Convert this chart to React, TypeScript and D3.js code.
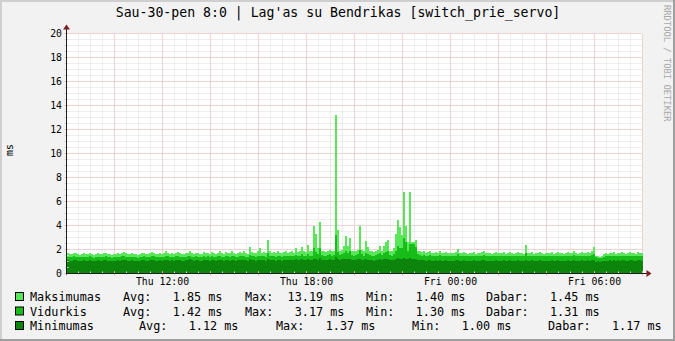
import React from "react";
import * as d3 from "d3";

const title = "Sau-30-pen 8:0 | Lag'as su Bendrikas [switch_prie_servo]";
const yLabel = "ms";
const credit = "RRDTOOL / TOBI OETIKER";
const startMs = Date.UTC(2009, 0, 29, 8, 0);
const stepMin = 5;
const yTicks = [0, 2, 4, 6, 8, 10, 12, 14, 16, 18, 20];

const maxValues = [
  1.7,1.65,1.6,1.75,1.7,1.6,1.55,1.65,1.7,1.6,1.65,1.75,1.6,1.55,1.6,1.7,1.65,1.6,1.7,1.75,1.65,1.6,1.55,1.6,
  1.65,1.7,1.6,1.75,1.8,1.7,1.65,1.6,1.7,1.65,1.6,1.55,1.65,1.7,1.75,1.65,1.6,1.7,1.8,1.75,1.65,1.6,1.7,1.65,
  1.7,1.85,1.75,1.65,1.7,1.6,1.75,1.8,1.7,1.65,1.6,1.7,1.75,1.85,1.7,1.65,1.75,1.7,1.6,1.65,1.8,1.7,1.75,1.65,
  1.8,1.7,1.65,1.75,1.9,1.7,1.65,1.8,1.75,1.7,1.9,1.75,1.65,1.7,1.8,1.75,1.85,1.7,1.65,2.25,1.8,1.75,1.7,1.85,
  2.1,1.75,1.8,1.7,2.8,1.85,1.75,1.8,1.7,1.9,1.75,1.7,1.8,1.85,1.75,1.8,1.9,1.75,2.1,1.8,1.85,2.2,1.9,1.8,
  2.4,1.9,1.85,4.0,3.3,2.1,4.3,1.9,1.85,1.8,1.9,2.0,1.85,1.9,13.19,3.6,1.9,2.0,2.3,3.1,2.3,2.95,1.9,1.85,
  1.9,2.0,4.0,2.0,1.85,2.7,2.2,1.9,1.85,1.8,1.9,2.0,2.3,1.9,2.3,2.6,2.8,1.9,1.85,2.1,3.3,4.5,3.9,3.2,
  6.83,4.0,2.6,6.83,2.6,2.6,2.8,1.9,1.85,1.8,1.85,1.75,1.8,1.9,1.75,1.7,1.8,1.75,1.85,1.7,1.75,1.8,1.7,1.75,
  1.7,1.75,1.8,2.05,1.7,1.75,1.8,1.7,1.65,1.75,1.7,1.8,1.65,1.7,1.75,1.8,1.9,1.75,1.7,1.7,1.65,1.75,1.8,1.7,
  1.75,1.7,1.8,1.65,1.75,1.8,1.7,1.65,1.75,1.8,1.7,1.75,1.65,2.4,1.75,1.7,1.8,1.65,1.7,1.75,1.8,1.7,1.65,1.75,
  1.7,1.75,1.8,1.65,1.7,1.8,1.75,1.7,1.65,1.75,1.8,1.7,1.75,1.85,1.7,1.65,1.75,1.8,1.7,1.75,1.8,1.7,1.85,2.25,
  1.5,1.45,1.4,1.45,1.6,1.7,1.65,1.75,1.7,1.8,1.65,1.75,1.7,1.8,1.75,1.65,1.7,1.8,1.75,1.7,1.65,1.8,1.75,1.7,
];

const avgValues = [
  1.4,1.38,1.35,1.42,1.4,1.36,1.34,1.38,1.4,1.35,1.37,1.42,1.36,1.33,1.35,1.4,1.38,1.35,1.4,1.42,1.37,1.35,1.33,1.36,
  1.38,1.4,1.35,1.42,1.45,1.4,1.37,1.35,1.4,1.38,1.35,1.33,1.37,1.4,1.42,1.38,1.35,1.4,1.45,1.42,1.37,1.35,1.4,1.38,
  1.4,1.45,1.42,1.38,1.4,1.35,1.42,1.45,1.4,1.38,1.35,1.4,1.42,1.48,1.4,1.37,1.42,1.4,1.35,1.38,1.45,1.4,1.42,1.38,
  1.45,1.4,1.38,1.42,1.48,1.4,1.37,1.45,1.42,1.4,1.48,1.42,1.38,1.4,1.45,1.42,1.46,1.4,1.38,1.55,1.45,1.42,1.4,1.46,
  1.5,1.42,1.45,1.4,1.7,1.46,1.42,1.45,1.4,1.48,1.42,1.4,1.45,1.46,1.42,1.45,1.48,1.42,1.55,1.45,1.46,1.6,1.5,1.45,
  1.65,1.5,1.48,2.1,1.8,1.6,2.1,1.55,1.5,1.48,1.55,1.6,1.5,1.55,3.17,1.8,1.55,1.6,1.7,1.9,1.7,1.85,1.55,1.5,
  1.55,1.6,2.0,1.6,1.5,1.75,1.6,1.55,1.5,1.48,1.55,1.6,1.7,1.55,1.7,1.8,1.85,1.55,1.5,1.6,1.9,2.3,2.1,2.1,
  3.0,2.6,1.9,2.5,2.5,2.45,2.2,1.6,1.55,1.5,1.52,1.48,1.5,1.55,1.48,1.45,1.5,1.48,1.52,1.45,1.48,1.5,1.45,1.48,
  1.45,1.48,1.5,1.6,1.45,1.48,1.5,1.45,1.42,1.48,1.45,1.5,1.42,1.45,1.48,1.5,1.55,1.48,1.45,1.45,1.42,1.48,1.5,1.45,
  1.48,1.45,1.5,1.42,1.48,1.5,1.45,1.42,1.48,1.5,1.45,1.48,1.42,1.7,1.48,1.45,1.5,1.42,1.45,1.48,1.5,1.45,1.42,1.48,
  1.45,1.48,1.5,1.42,1.45,1.5,1.48,1.45,1.42,1.48,1.5,1.45,1.48,1.52,1.45,1.42,1.48,1.5,1.45,1.48,1.5,1.45,1.52,1.65,
  1.35,1.32,1.3,1.33,1.4,1.45,1.42,1.48,1.45,1.5,1.42,1.48,1.45,1.5,1.48,1.42,1.45,1.5,1.48,1.45,1.42,1.5,1.48,1.45,
];

const minValues = [
  1.1,1.08,1.05,1.12,1.1,1.06,1.04,1.08,1.1,1.05,1.07,1.12,1.06,1.03,1.05,1.1,1.08,1.05,1.1,1.12,1.07,1.05,1.03,1.06,
  1.08,1.1,1.05,1.12,1.15,1.1,1.07,1.05,1.1,1.08,1.05,1.02,1.07,1.1,1.12,1.08,1.05,1.1,1.15,1.12,1.07,1.05,1.1,1.08,
  1.1,1.15,1.12,1.08,1.1,1.05,1.12,1.15,1.1,1.08,1.05,1.1,1.12,1.18,1.1,1.07,1.12,1.1,1.05,1.08,1.15,1.1,1.12,1.08,
  1.12,1.1,1.08,1.12,1.15,1.1,1.07,1.12,1.1,1.08,1.15,1.1,1.07,1.1,1.12,1.1,1.15,1.1,1.08,1.18,1.12,1.1,1.08,1.12,
  1.15,1.1,1.12,1.08,1.2,1.12,1.1,1.12,1.08,1.15,1.1,1.08,1.12,1.15,1.1,1.12,1.15,1.1,1.18,1.12,1.15,1.2,1.15,1.12,
  1.2,1.15,1.12,1.25,1.22,1.15,1.28,1.15,1.12,1.1,1.15,1.18,1.12,1.15,1.37,1.25,1.15,1.18,1.2,1.25,1.2,1.22,1.15,1.12,
  1.15,1.18,1.25,1.15,1.12,1.2,1.15,1.12,1.1,1.08,1.12,1.15,1.18,1.12,1.18,1.2,1.22,1.12,1.1,1.15,1.22,1.3,1.25,1.2,
  1.32,1.25,1.18,1.28,1.25,1.22,1.2,1.15,1.12,1.1,1.12,1.08,1.1,1.12,1.08,1.05,1.1,1.08,1.12,1.05,1.08,1.1,1.05,1.08,
  1.05,1.08,1.1,1.15,1.05,1.08,1.1,1.05,1.02,1.08,1.05,1.1,1.02,1.05,1.08,1.1,1.12,1.08,1.05,1.05,1.02,1.08,1.1,1.05,
  1.08,1.05,1.1,1.02,1.08,1.1,1.05,1.02,1.08,1.1,1.05,1.08,1.02,1.15,1.08,1.05,1.1,1.02,1.05,1.08,1.1,1.05,1.02,1.08,
  1.05,1.08,1.1,1.02,1.05,1.1,1.08,1.05,1.02,1.08,1.1,1.05,1.08,1.12,1.05,1.02,1.08,1.1,1.05,1.08,1.1,1.05,1.12,1.15,
  1.0,1.02,1.0,1.03,1.05,1.08,1.05,1.1,1.08,1.12,1.05,1.1,1.08,1.12,1.1,1.05,1.08,1.12,1.1,1.08,1.05,1.12,1.1,1.08,
];

const seriesNames = ["Maksimumas", "Vidurkis", "Minimumas"];
const seriesColors = ["#5AE65A", "#19BD19", "#0D850D"];
const legendRows = [
  ["Avg:   1.85 ms", "Max:  13.19 ms", "Min:   1.40 ms", "Dabar:   1.45 ms"],
  ["Avg:   1.42 ms", "Max:   3.17 ms", "Min:   1.30 ms", "Dabar:   1.31 ms"],
  ["Avg:   1.12 ms", "Max:   1.37 ms", "Min:   1.00 ms", "Dabar:   1.17 ms"],
];

const W = 675;
const H = 341;
const X0 = 66.5;
const X1 = 642.5;
const Y0 = 273.5;
const Y1 = 33.5;
const MONO = "'DejaVu Sans Mono', monospace";

export default function App() {
  const n = maxValues.length;
  const endMs = startMs + n * stepMin * 60000;
  const x = d3.scaleUtc().domain([new Date(startMs), new Date(endMs)]).range([X0, X1]);
  const y = d3.scaleLinear().domain([0, 20]).range([Y0, Y1]);

  const mk = (vals: number[]) => {
    const pts = vals.map((v, i) => ({ t: new Date(startMs + i * stepMin * 60000), v }));
    pts.push({ t: new Date(endMs), v: vals[vals.length - 1] });
    return d3
      .area<{ t: Date; v: number }>()
      .x((d) => x(d.t))
      .y0(y(0))
      .y1((d) => y(d.v))
      .curve(d3.curveStepAfter)(pts) as string;
  };
  const areas = [mk(maxValues), mk(avgValues), mk(minValues)];

  const minorX = d3.utcMinute.every(30)!.range(new Date(startMs), new Date(endMs + 1));
  const majorX = d3.utcHour.every(2)!.range(new Date(startMs), new Date(endMs + 1));
  const labelX = d3.utcHour.every(6)!.range(new Date(startMs + 1), new Date(endMs));
  const minorY = d3.range(0, 20.01, 0.5);
  const fmt = d3.utcFormat("%a %H:%M");

  const gridMinor = "#DCDCDC";
  const gridMajor = "#EDB8B8";

  return (
    <div style={{ position: "fixed", left: 0, top: 0 }}>
      <svg width={W} height={H} style={{ display: "block" }}>
        <rect x={0} y={0} width={W} height={H} fill="#F2F2F2" />
        <rect x={0} y={0} width={W} height={2} fill="#CFCFCF" />
        <rect x={0} y={0} width={2} height={H} fill="#CFCFCF" />
        <rect x={0} y={H - 2} width={W} height={2} fill="#9E9E9E" />
        <rect x={W - 2} y={0} width={2} height={H} fill="#9E9E9E" />
        <rect x={X0} y={Y1} width={X1 - X0} height={Y0 - Y1} fill="#FFFFFF" />

        {minorY.map((v) => (
          <line key={"hy" + v} x1={X0} x2={X1} y1={y(v)} y2={y(v)} stroke={gridMinor} strokeWidth={1} strokeDasharray="1,1" />
        ))}
        {minorX.map((t) => (
          <line key={"vx" + +t} x1={x(t)} x2={x(t)} y1={Y0} y2={Y1} stroke={gridMinor} strokeWidth={1} strokeDasharray="1,1" />
        ))}
        {yTicks.map((v) => (
          <line key={"HY" + v} x1={X0} x2={X1} y1={y(v)} y2={y(v)} stroke={gridMajor} strokeWidth={1} strokeDasharray="1,1" />
        ))}
        {majorX.map((t) => (
          <line key={"VX" + +t} x1={x(t)} x2={x(t)} y1={Y0} y2={Y1} stroke={gridMajor} strokeWidth={1} strokeDasharray="1,1" />
        ))}

        {areas.map((d, i) => (
          <path key={"a" + i} d={d} fill={seriesColors[i]} shapeRendering="crispEdges" />
        ))}

        {minorY.map((v) => (
          <line key={"ty" + v} x1={X0 - 2} x2={X0 + 2} y1={y(v)} y2={y(v)} stroke={v % 2 === 0 ? gridMajor : gridMinor} />
        ))}
        {minorX.map((t) => (
          <line key={"tx" + +t} x1={x(t)} x2={x(t)} y1={Y0 - 2} y2={Y0 + 2} stroke={gridMinor} />
        ))}
        {majorX.map((t) => (
          <line key={"TX" + +t} x1={x(t)} x2={x(t)} y1={Y0 - 2} y2={Y0 + 2} stroke={gridMajor} />
        ))}

        <line x1={X0} x2={X1 + 5} y1={Y0} y2={Y0} stroke="#1F1F1F" />
        <line x1={X0} x2={X0} y1={Y0 + 1} y2={Y1 - 5} stroke="#1F1F1F" />
        <path d={`M${X1 + 4},${Y0 - 3.5} L${X1 + 9},${Y0} L${X1 + 4},${Y0 + 3.5} Z`} fill="#801F1F" />
        <path d={`M${X0 - 3.5},${Y1 - 4} L${X0},${Y1 - 9} L${X0 + 3.5},${Y1 - 4} Z`} fill="#801F1F" />

        {yTicks.map((v) => (
          <text key={"yl" + v} x={62} y={y(v)} dy="0.35em" textAnchor="end" fontFamily={MONO} fontSize={9.8} fill="#000">
            {v}
          </text>
        ))}
        {labelX.map((t) => (
          <text key={"xl" + +t} x={x(t)} y={285} textAnchor="middle" fontFamily={MONO} fontSize={9.8} fill="#000">
            {fmt(t)}
          </text>
        ))}

        <text x={338} y={17} textAnchor="middle" fontFamily={MONO} fontSize={13.2} fill="#000">
          {title}
        </text>
        <text transform="translate(13,150) rotate(-90)" textAnchor="middle" fontFamily={MONO} fontSize={9.8} fill="#000">
          {yLabel}
        </text>
        <text transform="translate(664,5) rotate(90)" textAnchor="start" fontFamily={MONO} fontSize={8.8} fill="#A8A8A8">
          {credit}
        </text>

        {seriesNames.map((name, r) => {
          const cy = 297 + r * 14.5;
          const cols = r < 2 ? [123, 245, 366, 486] : [139, 276, 412, 548];
          return (
            <g key={"lg" + r}>
              <rect x={15.5} y={cy - 4.5} width={8} height={8} fill={seriesColors[r]} stroke="#000" />
              <text x={30} y={cy} dy="0.35em" fontFamily={MONO} fontSize={11.8} fill="#000">
                {name}
              </text>
              {legendRows[r].map((s, k) => (
                <text key={k} x={cols[k]} y={cy} dy="0.35em" fontFamily={MONO} fontSize={11.8} fill="#000" style={{ whiteSpace: "pre" }}>
                  {s}
                </text>
              ))}
            </g>
          );
        })}
      </svg>
    </div>
  );
}
